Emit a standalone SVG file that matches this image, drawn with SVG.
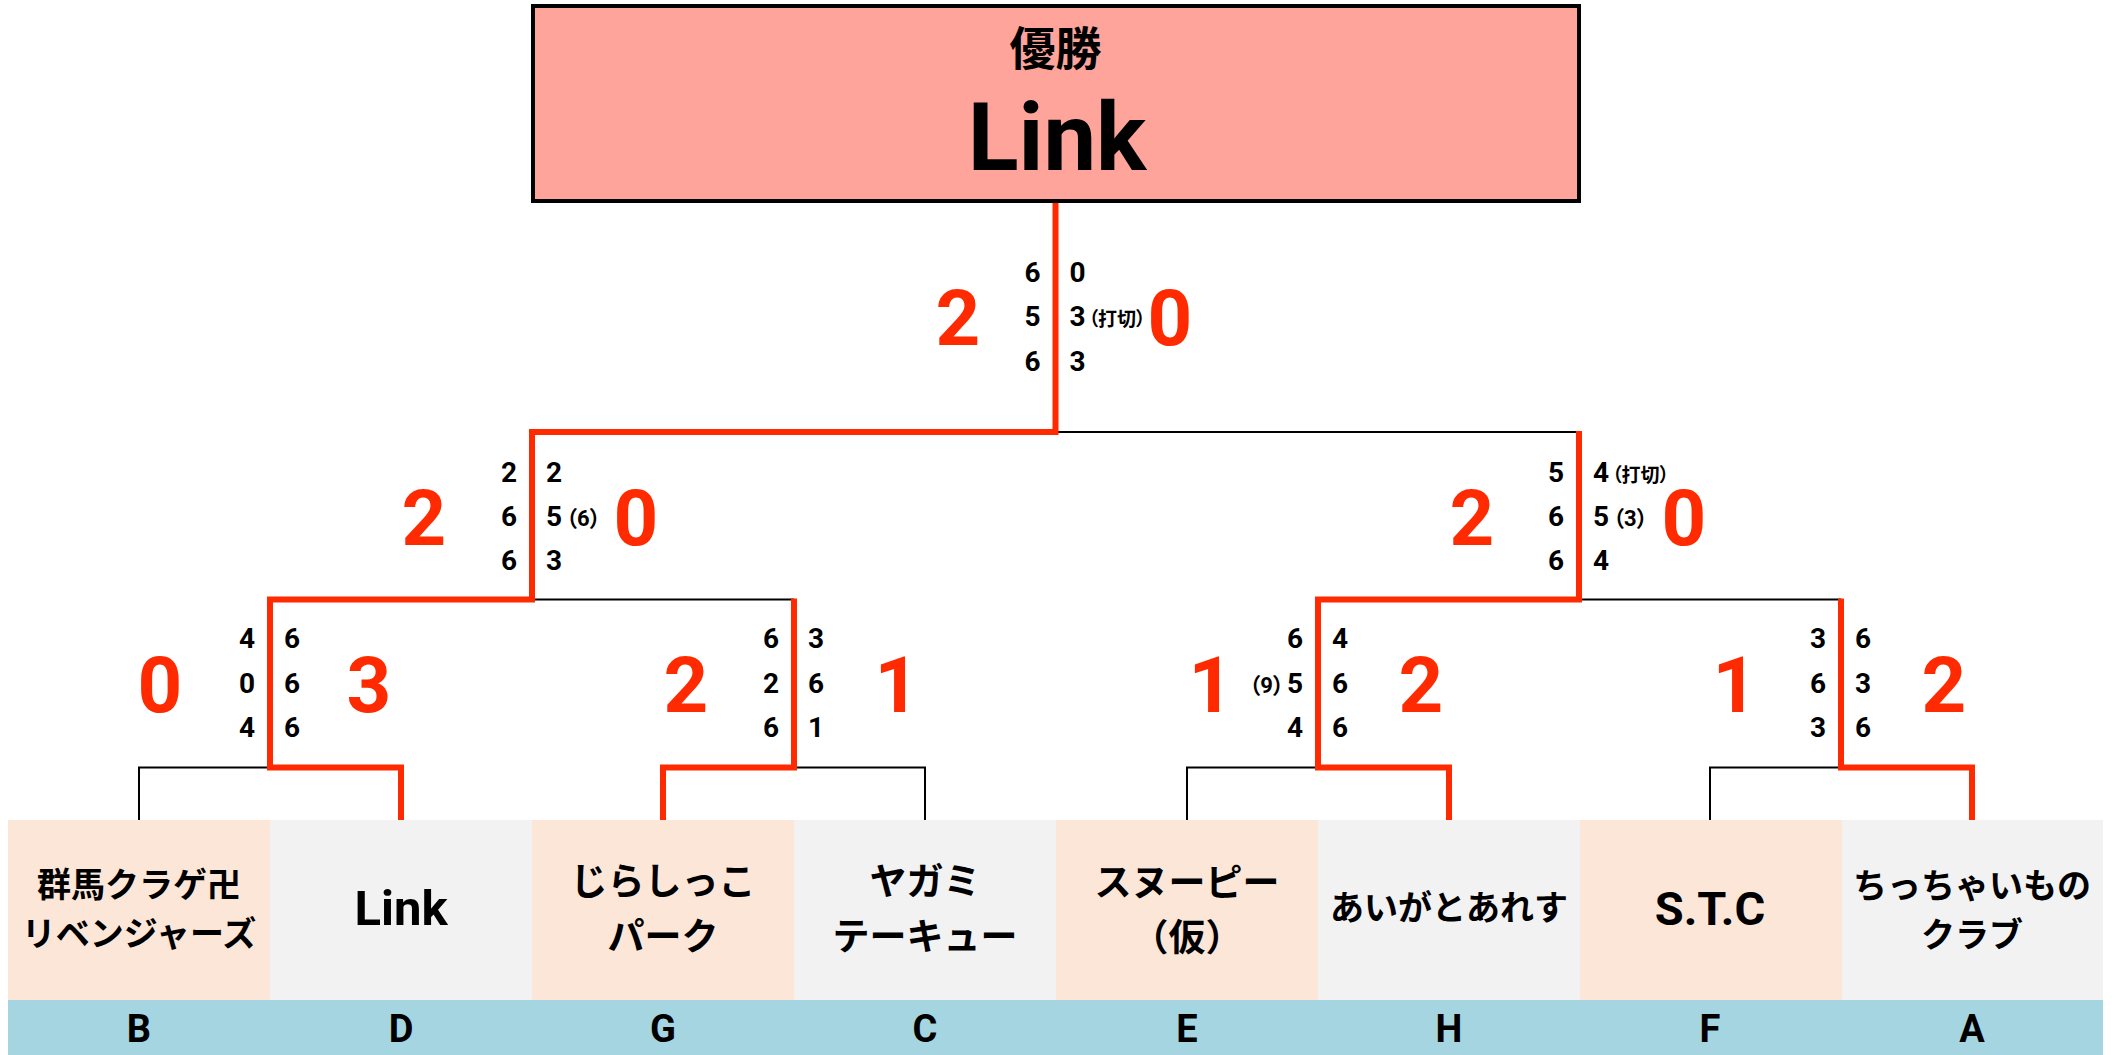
<svg xmlns="http://www.w3.org/2000/svg" width="2116" height="1055" viewBox="0 0 2116 1055">
<style>
.bg{fill:#FFFFFF}
.cellO{fill:#FCE6D8}
.cellG{fill:#F2F2F2}
.row{fill:#A6D5E2}
.win{fill:none;stroke:#FF2A00;stroke-width:6;stroke-linejoin:miter}
.lose{fill:none;stroke:#000;stroke-width:2}
.champ{fill:#FFA49A;stroke:#000;stroke-width:4}
.d{font-family:Roboto,"Liberation Sans","Noto Sans CJK JP",sans-serif;font-weight:700;font-size:28px;fill:#000}
.l{text-anchor:end}
.r{text-anchor:start}
.s{font-size:19px;font-feature-settings:"palt"}
.s2{font-size:22px;font-feature-settings:"palt"}
.big{font-family:Roboto,"Liberation Sans",sans-serif;font-weight:700;font-size:78px;fill:#FF2A00;text-anchor:middle}
.jp{font-family:"Noto Sans CJK JP","Noto Sans CJK SC",sans-serif;font-weight:700;fill:#000;text-anchor:middle}
.lat{font-family:Roboto,"Liberation Sans",sans-serif;font-weight:700;fill:#000;text-anchor:middle}
</style>
<rect class="bg" x="0" y="0" width="2116" height="1055"/>

<g id="connectors">
  <path class="lose" d="M139,820 V767.5 H270"/>
  <path class="lose" d="M925,820 V767.5 H794"/>
  <path class="lose" d="M1187,820 V767.5 H1318"/>
  <path class="lose" d="M1710,820 V767.5 H1841"/>
  <path class="lose" d="M532,599.5 H794"/>
  <path class="lose" d="M1579,599.5 H1841"/>
  <path class="lose" d="M1055.5,432 H1579"/>
  <path class="win" d="M401,820 V767.5 H270 V599.5 H532 V432 H1055.5 V203"/>
  <path class="win" d="M663,820 V767.5 H794 V598.5"/>
  <path class="win" d="M1449,820 V767.5 H1318 V599.5 H1579 V431"/>
  <path class="win" d="M1972,820 V767.5 H1841 V598.5"/>
</g>

<g id="champion">
  <rect class="champ" x="533" y="6" width="1046" height="195"/>
  <text class="jp" x="1055.5" y="65" font-size="46">優勝</text>
  <text class="lat" x="1057" y="170" font-size="94">Link</text>
</g>

<g id="score-final">
  <text class="d l" x="1040.5" y="281.5">6</text>
  <text class="d l" x="1040.5" y="326">5</text>
  <text class="d l" x="1040.5" y="370.5">6</text>
  <text class="d r" x="1069.5" y="281.5">0</text>
  <text class="d r" x="1069.5" y="326">3<tspan class="s" dx="3">（打切）</tspan></text>
  <text class="d r" x="1069.5" y="370.5">3</text>
  <text class="big" x="958" y="345">2</text>
  <text class="big" x="1170" y="345">0</text>
</g>

<g id="score-semi-left">
  <text class="d l" x="517" y="481.5">2</text>
  <text class="d l" x="517" y="525.5">6</text>
  <text class="d l" x="517" y="570">6</text>
  <text class="d r" x="546" y="481.5">2</text>
  <text class="d r" x="546" y="525.5">5<tspan class="s2" dx="4">（6）</tspan></text>
  <text class="d r" x="546" y="570">3</text>
  <text class="big" x="424" y="545">2</text>
  <text class="big" x="636" y="545">0</text>
</g>

<g id="score-semi-right">
  <text class="d l" x="1564" y="481.5">5</text>
  <text class="d l" x="1564" y="525.5">6</text>
  <text class="d l" x="1564" y="570">6</text>
  <text class="d r" x="1593" y="481.5">4<tspan class="s" dx="3">（打切）</tspan></text>
  <text class="d r" x="1593" y="525.5">5<tspan class="s2" dx="4">（3）</tspan></text>
  <text class="d r" x="1593" y="570">4</text>
  <text class="big" x="1472" y="545">2</text>
  <text class="big" x="1684" y="545">0</text>
</g>

<g id="score-r1-BD">
  <text class="d l" x="255" y="648">4</text>
  <text class="d l" x="255" y="692.5">0</text>
  <text class="d l" x="255" y="737">4</text>
  <text class="d r" x="284" y="648">6</text>
  <text class="d r" x="284" y="692.5">6</text>
  <text class="d r" x="284" y="737">6</text>
  <text class="big" x="160" y="712">0</text>
  <text class="big" x="369" y="712">3</text>
</g>

<g id="score-r1-GC">
  <text class="d l" x="779" y="648">6</text>
  <text class="d l" x="779" y="692.5">2</text>
  <text class="d l" x="779" y="737">6</text>
  <text class="d r" x="808" y="648">3</text>
  <text class="d r" x="808" y="692.5">6</text>
  <text class="d r" x="808" y="737">1</text>
  <text class="big" x="686" y="712">2</text>
  <text class="big" x="897" y="712">1</text>
</g>

<g id="score-r1-EH">
  <text class="d l" x="1303" y="648">6</text>
  <text class="d l" x="1303" y="692.5"><tspan class="s2">（9）</tspan><tspan dx="3">5</tspan></text>
  <text class="d l" x="1303" y="737">4</text>
  <text class="d r" x="1332" y="648">4</text>
  <text class="d r" x="1332" y="692.5">6</text>
  <text class="d r" x="1332" y="737">6</text>
  <text class="big" x="1211" y="712">1</text>
  <text class="big" x="1421" y="712">2</text>
</g>

<g id="score-r1-FA">
  <text class="d l" x="1826" y="648">3</text>
  <text class="d l" x="1826" y="692.5">6</text>
  <text class="d l" x="1826" y="737">3</text>
  <text class="d r" x="1855" y="648">6</text>
  <text class="d r" x="1855" y="692.5">3</text>
  <text class="d r" x="1855" y="737">6</text>
  <text class="big" x="1735" y="712">1</text>
  <text class="big" x="1944" y="712">2</text>
</g>

<rect class="row" x="8" y="1000" width="2095" height="55"/>

<g id="team-B">
  <rect class="cellO" x="8" y="820" width="262" height="180"/>
  <text class="jp" x="139" y="897" font-size="34">群馬クラゲ卍</text>
  <text class="jp" x="139" y="946" font-size="34">リベンジャーズ</text>
  <text class="lat" x="139" y="1042" font-size="38">B</text>
</g>
<g id="team-D">
  <rect class="cellG" x="270" y="820" width="262" height="180"/>
  <text class="lat" x="401" y="925" font-size="49">Link</text>
  <text class="lat" x="401" y="1042" font-size="38">D</text>
</g>
<g id="team-G">
  <rect class="cellO" x="532" y="820" width="262" height="180"/>
  <text class="jp" x="663" y="895" font-size="37">じらしっこ</text>
  <text class="jp" x="663" y="950" font-size="37">パーク</text>
  <text class="lat" x="663" y="1042" font-size="38">G</text>
</g>
<g id="team-C">
  <rect class="cellG" x="794" y="820" width="262" height="180"/>
  <text class="jp" x="925" y="895" font-size="37">ヤガミ</text>
  <text class="jp" x="925" y="950" font-size="37">テーキュー</text>
  <text class="lat" x="925" y="1042" font-size="38">C</text>
</g>
<g id="team-E">
  <rect class="cellO" x="1056" y="820" width="262" height="180"/>
  <text class="jp" x="1187" y="896" font-size="37">スヌーピー</text>
  <text class="jp" x="1187" y="951" font-size="37">（仮）</text>
  <text class="lat" x="1187" y="1042" font-size="38">E</text>
</g>
<g id="team-H">
  <rect class="cellG" x="1318" y="820" width="262" height="180"/>
  <text class="jp" x="1449" y="920" font-size="34">あいがとあれす</text>
  <text class="lat" x="1449" y="1042" font-size="38">H</text>
</g>
<g id="team-F">
  <rect class="cellO" x="1580" y="820" width="262" height="180"/>
  <text class="lat" x="1710" y="925" font-size="47">S.T.C</text>
  <text class="lat" x="1710" y="1042" font-size="38">F</text>
</g>
<g id="team-A">
  <rect class="cellG" x="1842" y="820" width="261" height="180"/>
  <text class="jp" x="1972" y="898" font-size="34">ちっちゃいもの</text>
  <text class="jp" x="1972" y="947" font-size="34">クラブ</text>
  <text class="lat" x="1972" y="1042" font-size="38">A</text>
</g>
</svg>
